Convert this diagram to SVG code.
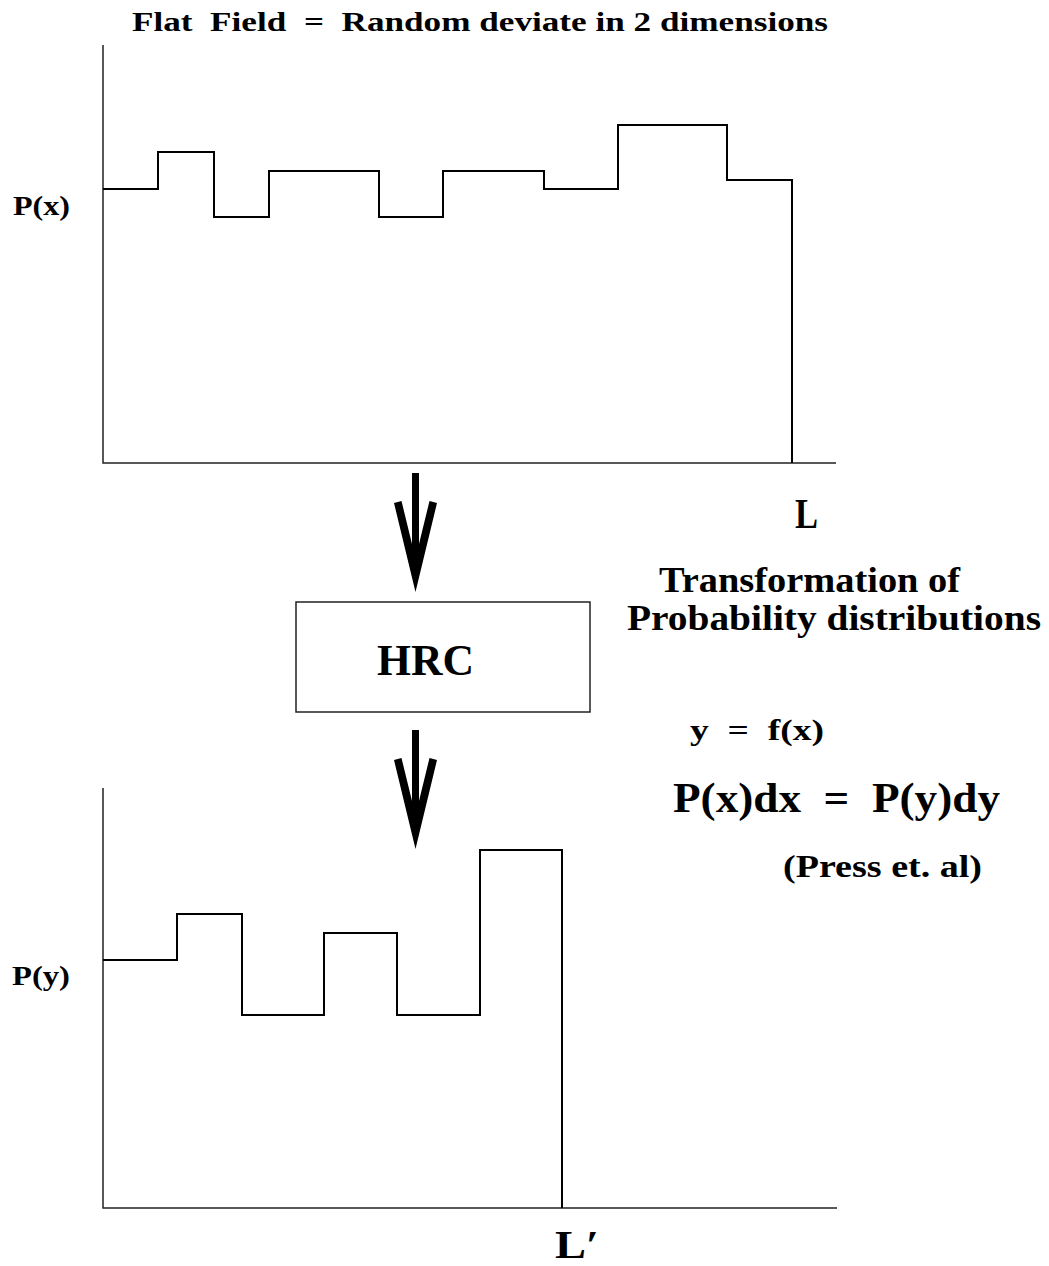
<svg xmlns="http://www.w3.org/2000/svg" xmlns:xlink="http://www.w3.org/1999/xlink" width="1049" height="1266" viewBox="0 0 1049 1266" xml:space="preserve">
<style>
text { font-family: "Liberation Serif", "DejaVu Serif", serif; font-weight: bold; fill: #000; white-space: pre; }
.axis { fill: none; stroke: #222; stroke-width: 1.5; }
.hist { fill: none; stroke: #000; stroke-width: 2; stroke-linejoin: miter; }
.box { fill: #fff; stroke: #222; stroke-width: 1.5; }
</style>
<defs>
<path id="bigarrow" d="M -3.5 0 H 3.5 V 71 L 14 28 L 21.5 30 L 0 119 L -21.5 30 L -14 28 L -3.5 71 Z" fill="#000"/>
</defs>
<rect width="1049" height="1266" fill="#fff"/>
<g id="title">
<text x="132" y="31" font-size="28" textLength="696" lengthAdjust="spacingAndGlyphs">Flat  Field  =  Random deviate in 2 dimensions</text>
</g>
<g id="top-plot">
<path class="axis" d="M 103 45 V 463 H 836"/>
<path class="hist" d="M 103 189 H 158 V 152 H 214 V 217 H 269 V 171 H 379 V 217 H 443 V 171 H 544 V 189 H 618 V 125 H 727 V 180 H 792 V 463"/>
<text x="13" y="215" font-size="28" textLength="57" lengthAdjust="spacingAndGlyphs">P(x)</text>
<text x="795" y="528" font-size="42" textLength="23" lengthAdjust="spacingAndGlyphs">L</text>
</g>
<g id="hrc">
<rect class="box" x="296" y="602" width="294" height="110"/>
<text x="377" y="675" font-size="44" textLength="97" lengthAdjust="spacingAndGlyphs">HRC</text>
</g>
<g id="bottom-plot">
<path class="axis" d="M 103 788 V 1208 H 837"/>
<path class="hist" d="M 103 960 H 177 V 914 H 242 V 1015 H 324 V 933 H 397 V 1015 H 480 V 850 H 562 V 1208"/>
<text x="12" y="985" font-size="28" textLength="58" lengthAdjust="spacingAndGlyphs">P(y)</text>
<text x="555" y="1258" font-size="41" textLength="44" lengthAdjust="spacingAndGlyphs">L′</text>
</g>
<g id="connectors">
<use xlink:href="#bigarrow" transform="translate(415.5 473)"/>
<use xlink:href="#bigarrow" transform="translate(415.5 730)"/>
</g>
<g id="notes">
<text x="659" y="592" font-size="35" textLength="301" lengthAdjust="spacingAndGlyphs">Transformation of</text>
<text x="627" y="630" font-size="35" textLength="414" lengthAdjust="spacingAndGlyphs">Probability distributions</text>
<text x="690" y="740" font-size="30" textLength="134" lengthAdjust="spacingAndGlyphs">y  =  f(x)</text>
<text x="673" y="812" font-size="42" textLength="327" lengthAdjust="spacingAndGlyphs">P(x)dx  =  P(y)dy</text>
<text x="783" y="877" font-size="32" textLength="199" lengthAdjust="spacingAndGlyphs">(Press et. al)</text>
</g>
</svg>
